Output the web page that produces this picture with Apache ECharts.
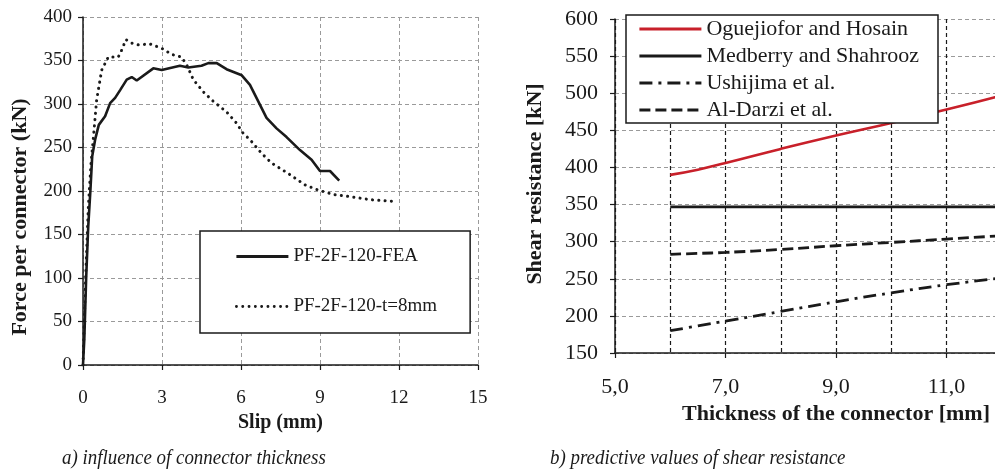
<!DOCTYPE html>
<html>
<head>
<meta charset="utf-8">
<script src="https://cdn.jsdelivr.net/npm/echarts@6/dist/echarts.min.js"></script>
<style>
html,body{margin:0;padding:0;overflow:hidden;background:#fff;width:995px;height:473px;}
#c{width:1120px;height:473px;}
</style>
</head>
<body>
<div id="c"></div>
<script>
// ---- Left chart data: force–slip curves ----
const slipFEA  = [0, 0.05, 0.12, 0.2, 0.28, 0.35, 0.46, 0.6, 0.84, 1.03, 1.22, 1.41, 1.66, 1.85, 2.04, 2.67, 2.99, 3.68, 4.0, 4.5, 4.76, 5.08, 5.45, 6.03, 6.34, 6.97, 7.35, 7.73, 8.24, 8.68, 9.0, 9.38, 9.73];
const forceFEA = [0, 30, 100, 160, 200, 240, 259, 276, 286, 301, 307, 316, 328, 331, 327, 341, 339, 344, 342, 344, 347, 347, 340, 333, 322, 284, 272, 262, 247, 236, 223, 223, 212];
const slipT8   = [0, 0.1, 0.2, 0.3, 0.39, 0.52, 0.71, 0.96, 1.34, 1.47, 1.63, 1.85, 2.1, 2.54, 2.99, 3.37, 3.74, 3.94, 4.19, 4.57, 4.95, 5.45, 5.83, 6.09, 6.34, 6.79, 7.17, 7.8, 8.43, 8.94, 9.51, 10.27, 10.9, 11.85];
const forceT8  = [0, 100, 180, 230, 260, 305, 339, 354, 354, 362, 374, 370, 368, 369, 364, 357, 354, 345, 328, 314, 303, 291, 278, 266, 259, 243, 232, 220, 207, 201, 196, 193, 190, 188];
const leftNames = ['PF-2F-120-FEA', 'PF-2F-120-t=8mm'];

// ---- Right chart data: predicted shear resistance ----
const thickness  = [6, 6.5, 7, 8, 9, 10, 11, 12];
const oguejiofor = [390, 397, 406, 425, 443, 460, 478, 497];
const medberry   = [347, 347, 347, 347, 347, 347, 347, 347];
const ushijima   = [180, 186.5, 193, 206, 219, 231, 242, 251];
const alDarzi    = [283, 284.2, 285.5, 289.5, 294.5, 299, 303.5, 308];
const rightNames = ['Oguejiofor and Hosain', 'Medberry and Shahrooz', 'Ushijima et al.', 'Al-Darzi et al.'];

const zip = (xs, ys) => xs.map((x, i) => [x, ys[i]]);
const SERIF = '"Liberation Serif", "Times New Roman", serif';
const INK = '#1a1a1a';

const chart = echarts.init(document.getElementById('c'), null, {renderer: 'canvas'});

const grayDash = {show: true, lineStyle: {color: '#9a9a9a', width: 1, type: [4, 3]}};
const blackDash = {show: true, lineStyle: {color: INK, width: 1.2, type: [4, 3]}};

chart.setOption({
  animation: false,
  backgroundColor: '#fff',
  grid: [
    {left: 83, top: 17, width: 395, height: 348},
    {left: 615, top: 19, width: 442, height: 334}
  ],
  xAxis: [
    {
      gridIndex: 0, type: 'value', min: 0, max: 15, interval: 3,
      name: 'Slip (mm)', nameLocation: 'middle', nameGap: 43,
      nameTextStyle: {fontFamily: SERIF, fontWeight: 'bold', fontSize: 20, color: INK},
      axisLine: {show: true, onZero: false, lineStyle: {color: INK, width: 1.5}},
      axisTick: {show: true, length: 5, lineStyle: {color: INK, width: 1.2}},
      axisLabel: {fontFamily: SERIF, fontSize: 19, color: INK, margin: 24},
      splitLine: grayDash
    },
    {
      gridIndex: 1, type: 'value', min: 5, max: 13, interval: 2,
      name: 'Thickness of the connector [mm]', nameLocation: 'middle', nameGap: 45,
      nameTextStyle: {fontFamily: SERIF, fontWeight: 'bold', fontSize: 22, color: INK},
      axisLine: {show: true, onZero: false, lineStyle: {color: INK, width: 1.5}},
      axisTick: {show: true, length: 5, lineStyle: {color: INK, width: 1.2}},
      axisLabel: {fontFamily: SERIF, fontSize: 22, color: INK, margin: 23,
        formatter: v => v.toFixed(1).replace('.', ',')},
      splitLine: blackDash,
      minorTick: {show: false, splitNumber: 2},
      minorSplitLine: blackDash
    }
  ],
  yAxis: [
    {
      gridIndex: 0, type: 'value', min: 0, max: 400, interval: 50,
      axisLine: {show: true, onZero: false, lineStyle: {color: INK, width: 1.5}},
      axisTick: {show: true, length: 5, lineStyle: {color: INK, width: 1.2}},
      axisLabel: {fontFamily: SERIF, fontSize: 19, color: INK, margin: 11},
      splitLine: grayDash
    },
    {
      gridIndex: 1, type: 'value', min: 150, max: 600, interval: 50,
      axisLine: {show: true, onZero: false, lineStyle: {color: INK, width: 1.5}},
      axisTick: {show: true, length: 5, lineStyle: {color: INK, width: 1.2}},
      axisLabel: {fontFamily: SERIF, fontSize: 22, color: INK, margin: 17},
      splitLine: grayDash
    }
  ],
  legend: [
    {
      data: leftNames, left: 200, top: 231, orient: 'vertical',
      itemWidth: 52, itemHeight: 14, itemGap: 31,
      padding: [16, 33, 17, 35],
      backgroundColor: '#fff', borderColor: INK, borderWidth: 1.5, borderRadius: 0,
      itemStyle: {opacity: 0},
      lineStyle: {width: 2.8},
      textStyle: {fontFamily: SERIF, fontSize: 19, color: INK}
    },
    {
      data: rightNames, left: 626, top: 15, orient: 'vertical',
      itemWidth: 62, itemHeight: 14, itemGap: 5,
      padding: [3, 19, 2, 12],
      backgroundColor: '#fff', borderColor: INK, borderWidth: 1.5, borderRadius: 0,
      itemStyle: {opacity: 0},
      lineStyle: {width: 2.8},
      textStyle: {fontFamily: SERIF, fontSize: 22, color: INK}
    }
  ],
  graphic: [
    {type: 'text', x: 20, y: 217, rotation: Math.PI / 2,
     style: {text: 'Force per connector (kN)', font: 'bold 22px ' + SERIF, fill: INK, align: 'center', verticalAlign: 'middle'}},
    {type: 'text', x: 535, y: 184, rotation: Math.PI / 2,
     style: {text: 'Shear resistance [kN]', font: 'bold 22px ' + SERIF, fill: INK, align: 'center', verticalAlign: 'middle'}},
    {type: 'text', x: 62, y: 458, scaleX: 0.86,
     style: {text: 'a) influence of connector thickness', font: 'italic 22px ' + SERIF, fill: INK, align: 'left', verticalAlign: 'middle'}},
    {type: 'text', x: 550, y: 458, scaleX: 0.86,
     style: {text: 'b) predictive values of shear resistance', font: 'italic 22px ' + SERIF, fill: INK, align: 'left', verticalAlign: 'middle'}}
  ],
  series: [
    {name: leftNames[0], type: 'line', xAxisIndex: 0, yAxisIndex: 0, data: zip(slipFEA, forceFEA),
     symbol: 'none', lineStyle: {color: INK, width: 2.6}, itemStyle: {color: INK}, z: 3},
    {name: leftNames[1], type: 'line', xAxisIndex: 0, yAxisIndex: 0, data: zip(slipT8, forceT8),
     symbol: 'none', lineStyle: {color: INK, width: 3, type: [0.1, 6.2], cap: 'round'}, itemStyle: {color: INK}, z: 3},
    {name: rightNames[0], type: 'line', xAxisIndex: 1, yAxisIndex: 1, data: zip(thickness, oguejiofor), smooth: true,
     symbol: 'none', lineStyle: {color: '#c8202a', width: 2.6}, itemStyle: {color: '#c8202a'}, z: 3},
    {name: rightNames[1], type: 'line', xAxisIndex: 1, yAxisIndex: 1, data: zip(thickness, medberry),
     symbol: 'none', lineStyle: {color: INK, width: 2.8}, itemStyle: {color: INK}, z: 3},
    {name: rightNames[2], type: 'line', xAxisIndex: 1, yAxisIndex: 1, data: zip(thickness, ushijima), smooth: true,
     symbol: 'none', lineStyle: {color: INK, width: 2.8, type: [13, 6, 3, 6]}, itemStyle: {color: INK}, z: 3},
    {name: rightNames[3], type: 'line', xAxisIndex: 1, yAxisIndex: 1, data: zip(thickness, alDarzi), smooth: true,
     symbol: 'none', lineStyle: {color: INK, width: 2.8, type: [11, 5]}, itemStyle: {color: INK}, z: 3}
  ]
});
</script>
</body>
</html>
